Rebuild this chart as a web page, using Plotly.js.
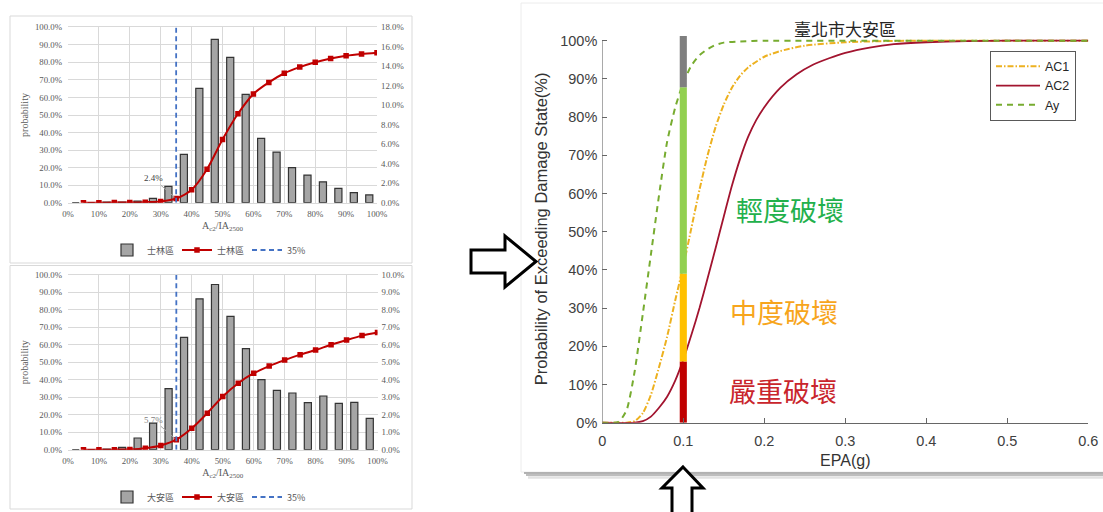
<!DOCTYPE html>
<html><head><meta charset="utf-8">
<script src="https://cdn.plot.ly/plotly-3.0.1.min.js"></script>
<style>html,body{margin:0;padding:0;background:#fff;}#chart{width:1103px;height:512px;}</style>
</head><body><div id="chart"></div>
<script>
// ---------- data: left histograms ----------
const binCenters = [0.025,0.075,0.125,0.175,0.225,0.275,0.325,0.375,0.425,0.475,0.525,0.575,0.625,0.675,0.725,0.775,0.825,0.875,0.925,0.975];
const cumX = [0.05,0.10,0.15,0.20,0.25,0.30,0.35,0.40,0.45,0.50,0.55,0.60,0.65,0.70,0.75,0.80,0.85,0.90,0.95,1.00];
const shilinBars = [0,0,0.0005,0.0007,0.0017,0.0045,0.0168,0.0496,0.1174,0.1677,0.1492,0.1112,0.0660,0.0520,0.0359,0.0284,0.0214,0.0147,0.0103,0.0080];
const shilinCum  = [0,0,0.0005,0.0012,0.0030,0.0074,0.024,0.074,0.191,0.360,0.507,0.620,0.686,0.738,0.773,0.801,0.822,0.838,0.848,0.855];
const daanBars   = [0,0,0.0004,0.0013,0.0067,0.0152,0.0349,0.0642,0.0862,0.0944,0.0762,0.0577,0.0400,0.0339,0.0324,0.0269,0.0307,0.0265,0.0270,0.0179];
const daanCum    = [0,0,0.0004,0.0017,0.0085,0.024,0.057,0.122,0.209,0.304,0.380,0.437,0.478,0.512,0.543,0.570,0.600,0.627,0.652,0.670];
const thresholdX = [0.35];
const thresholdName = '35%';
const nameTop = '士林區';
const nameBottom = '大安區';
const barAxisTop = {range: [0, 0.18], dtick: 0.02};    // right axis (top chart)
const barAxisBottom = {range: [0, 0.10], dtick: 0.01}; // right axis (bottom chart)

// ---------- data: right fragility curves ----------
const epaAy  = [0,0.02,0.03,0.04,0.05,0.06,0.07,0.08,0.09,0.10,0.11,0.12,0.13,0.14,0.15,0.17,0.20,0.25,0.30,0.40,0.50,0.60];
const ay     = [0,0.2,3.3,13.5,28.5,44,59.5,73.5,82.5,89,93.5,96.2,97.8,98.9,99.5,99.8,100,100,100,100,100,100];
const epaAc1 = [0,0.03,0.04,0.05,0.06,0.07,0.08,0.09,0.10,0.11,0.12,0.13,0.14,0.15,0.16,0.17,0.18,0.20,0.22,0.25,0.30,0.35,0.40,0.50,0.60];
const ac1    = [0,0,0.4,2.5,7.3,14.5,22.5,32,41,51,61,70,77.5,83.3,87.7,90.8,93,95.8,97.3,98.7,99.6,99.9,100,100,100];
const epaAc2 = [0,0.04,0.05,0.06,0.07,0.08,0.09,0.10,0.11,0.12,0.13,0.14,0.15,0.16,0.17,0.18,0.19,0.20,0.22,0.24,0.26,0.28,0.30,0.33,0.36,0.40,0.45,0.50,0.60];
const ac2    = [0,0,0.4,1.6,3.9,6.8,11,16.5,23,30,37.8,45.8,54,62,69,74.8,79.2,82.6,87.7,91.2,93.7,95.4,96.8,98.2,99.1,99.6,99.9,100,100];
const barEpa = [0.1];
const dsNames  = ['嚴重破壞','中度破壞','輕度破壞','無破壞'];
const dsUpper  = [16, 39, 87.8, 101.2];   // cumulative upper edge of each band (%)
const dsColors = ['#c00000','#ffc000','#92d050','#7f7f7f'];
const dsLabelColors = ['#c9252c','#f7a51c','#22b04b'];
const dsLabelPos = [[0.2231, 8.3],[0.2243, 29.2],[0.2317, 55.7]];
const rightTitle = '臺北市大安區';
const rightTickVals = [0,10,20,30,40,50,60,70,80,90,100];

// ---------- layout helpers ----------
const W = 1103, H = 512;
const px = x => x / W, py = y => 1 - y / H;
const serif = 'Liberation Serif, Times New Roman, serif';
const cjk = 'Noto Sans CJK TC, Noto Sans CJK SC, sans-serif';
const sans = 'Liberation Sans, Arial, sans-serif';
const gridC = '#d9d9d9';
const tickF = {family: serif, size: 8.8, color: '#595959'};

function leftAxes(xDom, yDom, bar, xa, ya, yb) {
  const o = {};
  o[xa.key] = {domain: xDom, anchor: ya.id, range: [0, 1], dtick: 0.1, tickformat: '.0%',
    showgrid: true, gridcolor: gridC, showline: true, linecolor: gridC, mirror: true, zeroline: false,
    ticks: '', ticklabelstandoff: 3, tickfont: tickF,
    title: {text: 'A<sub>c2</sub>/IA<sub>2500</sub>', font: {family: serif, size: 10, color: '#595959'}, standoff: 3},
    fixedrange: true};
  o[ya.key] = {domain: yDom, anchor: xa.id, side: 'right', range: bar.range, dtick: bar.dtick, tickformat: '.1%',
    showgrid: false, zeroline: false, ticks: '', ticklabelstandoff: 3, tickfont: tickF, fixedrange: true};
  o[yb.key] = {overlaying: ya.id, anchor: xa.id, side: 'left', range: [0, 1], dtick: 0.1, tickformat: '.1%',
    showgrid: true, gridcolor: gridC, zeroline: false, ticks: '', ticklabelstandoff: 5, tickfont: tickF,
    title: {text: 'probability', font: {family: serif, size: 10, color: '#595959'}, standoff: 4}, fixedrange: true};
  return o;
}

function leftTraces(bars, cum, name, xa, ya, yb, leg) {
  return [
    {type: 'bar', x: binCenters, y: bars, xaxis: xa, yaxis: ya, width: 0.023, name: name, legend: leg,
     marker: {color: '#a5a5a5', line: {color: '#333333', width: 1.2}}, hoverinfo: 'skip'},
    {type: 'scatter', mode: 'lines+markers', x: cumX, y: cum, xaxis: xa, yaxis: yb, name: name, legend: leg,
     line: {color: '#c00000', width: 2, shape: 'spline', smoothing: 0.8},
     marker: {symbol: 'square', size: 5.5, color: '#c00000'}, hoverinfo: 'skip'},
    {type: 'scatter', mode: 'lines', x: [thresholdX[0], thresholdX[0]], y: [0, 1], xaxis: xa, yaxis: yb,
     name: thresholdName, legend: leg, line: {color: '#4472c4', width: 1.8, dash: '5px,3.5px'}, hoverinfo: 'skip'}
  ];
}

const data = [];
data.push(...leftTraces(shilinBars, shilinCum, nameTop, 'x', 'y', 'y2', 'legend'));
data.push(...leftTraces(daanBars, daanCum, nameBottom, 'x2', 'y3', 'y4', 'legend2'));

// right chart curves
data.push({type: 'scatter', mode: 'lines', x: epaAc1, y: ac1, xaxis: 'x3', yaxis: 'y5', name: 'AC1', legend: 'legend3',
  line: {color: '#EDB120', width: 2, dash: '6px,2px,1.5px,2px', shape: 'spline', smoothing: 0.6}, hoverinfo: 'skip'});
data.push({type: 'scatter', mode: 'lines', x: epaAc2, y: ac2, xaxis: 'x3', yaxis: 'y5', name: 'AC2', legend: 'legend3',
  line: {color: '#A2142F', width: 1.8, shape: 'spline', smoothing: 0.6}, hoverinfo: 'skip'});
data.push({type: 'scatter', mode: 'lines', x: epaAy, y: ay, xaxis: 'x3', yaxis: 'y5', name: 'Ay', legend: 'legend3',
  line: {color: '#77AC30', width: 2, dash: '6px,5px', shape: 'spline', smoothing: 0.6}, hoverinfo: 'skip'});
// stacked damage-state bar (drawn on an overlay so it sits above the curves)
dsUpper.forEach((u, i) => {
  const lower = i === 0 ? 0 : dsUpper[i - 1];
  data.push({type: 'bar', x: barEpa, y: [u - lower], base: [lower], xaxis: 'x3', yaxis: 'y6', width: 0.0088,
    name: dsNames[i], showlegend: false, marker: {color: dsColors[i], line: {width: 0}}, hoverinfo: 'skip'});
});

const rY = [0, 101.5];
const plotTopPx = 422.7 - rY[1] * 3.82;
const legLeft = {orientation: 'h', xanchor: 'center', yanchor: 'middle', entrywidth: 25,
  font: {family: cjk, size: 9, color: '#595959'}, bgcolor: 'rgba(0,0,0,0)', itemwidth: 30, traceorder: 'normal'};

const layout = Object.assign({
  width: W, height: H, margin: {l: 0, r: 0, t: 0, b: 0}, paper_bgcolor: '#fff', plot_bgcolor: 'rgba(0,0,0,0)',
  showlegend: true, barmode: 'overlay', hovermode: false,
  legend: Object.assign({}, legLeft, {x: px(212), y: py(250)}),
  legend2: Object.assign({}, legLeft, {x: px(212), y: py(497)}),
  legend3: {x: px(990), xanchor: 'left', y: py(50.7), yanchor: 'top', bgcolor: '#fff', bordercolor: '#595959', borderwidth: 1,
    font: {family: sans, size: 12.5, color: '#262626'}, tracegroupgap: 0, itemwidth: 44, traceorder: 'normal'},
  xaxis3: {domain: [px(602.3), px(1088.3)], anchor: 'y5', range: [0, 0.6], dtick: 0.1, showgrid: false, zeroline: false,
    showline: true, linecolor: '#666', linewidth: 1, ticks: 'inside', ticklen: 5, tickcolor: '#666',
    ticklabelstandoff: 5, tickfont: {family: sans, size: 14.5, color: '#404040'},
    title: {text: 'EPA(g)', font: {family: sans, size: 16, color: '#333'}, standoff: 6}, fixedrange: true},
  yaxis5: {domain: [py(422.7), py(plotTopPx)], anchor: 'x3', range: rY, tickmode: 'array', tickvals: rightTickVals,
    ticktext: rightTickVals.map(v => v + '%'),
    showgrid: false, zeroline: false, showline: false, ticks: 'inside', ticklen: 5, tickcolor: '#666',
    ticklabelstandoff: 4, tickfont: {family: sans, size: 14.5, color: '#404040'},
    title: {text: 'Probability of Exceeding Damage State(%)', font: {family: sans, size: 16.5, color: '#333'}, standoff: 8},
    fixedrange: true},
  yaxis6: {overlaying: 'y5', anchor: 'x3', range: rY, visible: false, fixedrange: true}
},
  leftAxes([px(68), px(377)], [py(202.7), py(27.3)], barAxisTop, {key: 'xaxis', id: 'x'}, {key: 'yaxis', id: 'y'}, {key: 'yaxis2', id: 'y2'}),
  leftAxes([px(68), px(377.5)], [py(449.7), py(274.7)], barAxisBottom, {key: 'xaxis2', id: 'x2'}, {key: 'yaxis3', id: 'y3'}, {key: 'yaxis4', id: 'y4'})
);

// annotations
const fmtPct = v => (v * 100).toFixed(1) + '%';
const idx35 = cumX.indexOf(thresholdX[0]);
const annotations = [
  {xref: 'x', yref: 'y2', x: thresholdX[0], y: shilinCum[idx35], text: fmtPct(shilinCum[idx35]), showarrow: true,
   arrowhead: 0, arrowwidth: 1, arrowcolor: '#a6a6a6', ax: -23, ay: -20, standoff: 2,
   font: {family: serif, size: 9, color: '#404040'}},
  {xref: 'x2', yref: 'y4', x: thresholdX[0], y: daanCum[idx35], text: fmtPct(daanCum[idx35]), showarrow: true,
   arrowhead: 0, arrowwidth: 1, arrowcolor: '#a6a6a6', ax: -23, ay: -20, standoff: 2,
   font: {family: serif, size: 9, color: '#7f7f7f'}},
  {xref: 'paper', yref: 'paper', x: px(845), y: py(28), xanchor: 'center', yanchor: 'middle', text: rightTitle, showarrow: false,
   font: {family: cjk, size: 17, color: '#262626'}}
];
[2, 1, 0].forEach(i => {
  annotations.push({xref: 'x3', yref: 'y5', x: dsLabelPos[i][0], y: dsLabelPos[i][1], xanchor: 'center', yanchor: 'middle',
    text: dsNames[i], showarrow: false, font: {family: cjk, size: 27, color: dsLabelColors[i]}});
});
layout.annotations = annotations;

// decorative shapes (panel frames, shadow, arrows)
function pathPx(pts) {
  return 'M' + pts.map(p => px(p[0]).toFixed(5) + ',' + py(p[1]).toFixed(5)).join(' L') + ' Z';
}
layout.shapes = [
  {type: 'rect', xref: 'paper', yref: 'paper', x0: px(10), x1: px(412), y0: py(263), y1: py(16), line: {color: '#d9d9d9', width: 1}, layer: 'below'},
  {type: 'rect', xref: 'paper', yref: 'paper', x0: px(10), x1: px(412), y0: py(509), y1: py(265.5), line: {color: '#d9d9d9', width: 1}, layer: 'below'},
  {type: 'rect', xref: 'paper', yref: 'paper', x0: px(521), x1: px(1104), y0: py(472), y1: py(3), line: {color: '#ececec', width: 1}, layer: 'below'},
  {type: 'line', xref: 'paper', yref: 'paper', x0: px(524), x1: px(1103), y0: py(473), y1: py(473), line: {color: '#9a9a9a', width: 1.5}},
  {type: 'line', xref: 'paper', yref: 'paper', x0: px(526), x1: px(1103), y0: py(475), y1: py(475), line: {color: '#bdbdbd', width: 2}},
  {type: 'line', xref: 'paper', yref: 'paper', x0: px(528), x1: px(1103), y0: py(477.5), y1: py(477.5), line: {color: '#e2e2e2', width: 2.5}},
  {type: 'line', xref: 'x3', yref: 'y5', x0: 0, x1: 0, y0: rightTickVals[0], y1: rightTickVals[rightTickVals.length - 1], line: {color: '#666', width: 1}},
  {type: 'path', xref: 'paper', yref: 'paper', path: pathPx([[471,250],[505,250],[505,236],[536,261.5],[505,287],[505,273],[471,273]]),
   fillcolor: '#fff', line: {color: '#000', width: 3}},
  {type: 'path', xref: 'paper', yref: 'paper', path: pathPx([[683,467],[703,488],[692,488],[692,516],[672,516],[672,488],[662,488]]),
   fillcolor: '#fff', line: {color: '#000', width: 3}}
];

Plotly.newPlot('chart', data, layout, {staticPlot: true, displayModeBar: false});
</script></body></html>
